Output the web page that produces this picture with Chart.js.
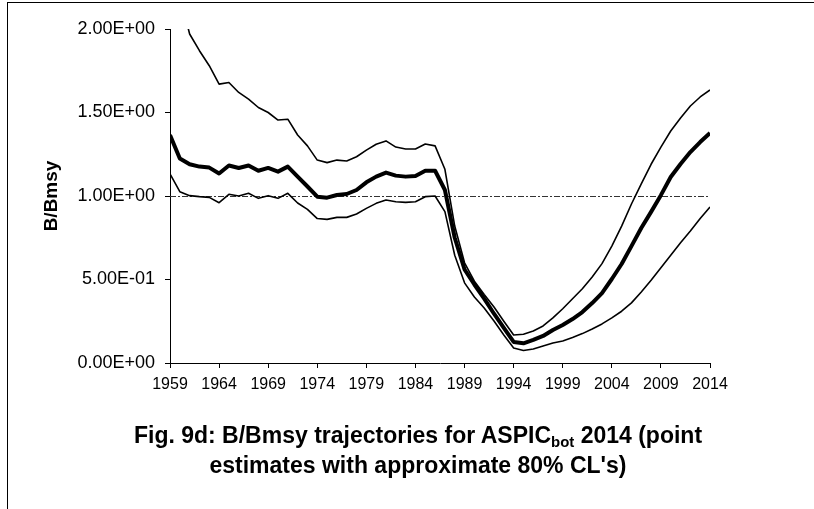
<!DOCTYPE html>
<html>
<head>
<meta charset="utf-8">
<title>B/Bmsy trajectories</title>
<script src="https://cdn.jsdelivr.net/npm/chart.js@4.4.1/dist/chart.umd.min.js"></script>
<style>
  body { margin: 0; background: #fff; overflow: hidden; }
  #wrap { position: relative; width: 814px; height: 509px; overflow: hidden; }
  #frame { position: absolute; left: 7px; top: 2px; width: 900px; height: 600px;
           border-top: 1px solid #000; border-left: 1px solid #000; }
  #caption { position: absolute; left: 68px; top: 420px; width: 700px; text-align: center;
             font: bold 23px "Liberation Sans", Arial, sans-serif; line-height: 30px; color: #000; }
  #caption sub { font-size: 0.65em; vertical-align: -0.3em; line-height: 0; }
</style>
</head>
<body>
<div id="wrap">
  <div id="frame"></div>
  <canvas id="chart" width="814" height="509"></canvas>
  <div id="caption">Fig. 9d: B/Bmsy trajectories for ASPIC<sub>bot</sub> 2014 (point<br>estimates with approximate 80% CL's)</div>
</div>
<script>
// years on the x axis
const years = ['1959','1960','1961','1962','1963','1964','1965','1966','1967','1968',
               '1969','1970','1971','1972','1973','1974','1975','1976','1977','1978',
               '1979','1980','1981','1982','1983','1984','1985','1986','1987','1988',
               '1989','1990','1991','1992','1993','1994','1995','1996','1997','1998',
               '1999','2000','2001','2002','2003','2004','2005','2006','2007','2008',
               '2009','2010','2011','2012','2013','2014'];

// upper 80% CL
const upperCL = [2.50, 2.20, 1.97, 1.87, 1.78, 1.67, 1.68, 1.62, 1.58, 1.53,
                 1.50, 1.455, 1.46, 1.365, 1.30, 1.215, 1.20, 1.215, 1.21, 1.235,
                 1.275, 1.31, 1.33, 1.293, 1.281, 1.281, 1.311, 1.30, 1.16, 0.82,
                 0.60, 0.49, 0.41, 0.335, 0.25, 0.168, 0.172, 0.192, 0.222, 0.27,
                 0.325, 0.385, 0.445, 0.515, 0.595, 0.70, 0.82, 0.952, 1.072, 1.19,
                 1.293, 1.389, 1.467, 1.539, 1.593, 1.635];

// point estimate
const pointEst = [1.365, 1.225, 1.19, 1.176, 1.17, 1.135, 1.183, 1.168, 1.183, 1.151,
                  1.168, 1.146, 1.176, 1.116, 1.057, 0.996, 0.99, 1.006, 1.012, 1.036,
                  1.082, 1.116, 1.14, 1.122, 1.116, 1.12, 1.151, 1.151, 1.036, 0.75,
                  0.56, 0.47, 0.385, 0.295, 0.21, 0.126, 0.118, 0.138, 0.162, 0.198,
                  0.228, 0.263, 0.305, 0.359, 0.419, 0.503, 0.593, 0.70, 0.808, 0.905,
                  1.005, 1.114, 1.192, 1.263, 1.323, 1.377];

// lower 80% CL
const lowerCL = [1.132, 1.026, 1.002, 0.996, 0.992, 0.96, 1.01, 1.0, 1.016, 0.986,
                 1.002, 0.986, 1.016, 0.958, 0.92, 0.865, 0.86, 0.872, 0.872, 0.892,
                 0.926, 0.956, 0.976, 0.966, 0.962, 0.966, 0.996, 1.0, 0.906, 0.645,
                 0.48, 0.395, 0.329, 0.251, 0.168, 0.09, 0.075, 0.084, 0.102, 0.12,
                 0.132, 0.153, 0.176, 0.204, 0.234, 0.27, 0.31, 0.36, 0.425, 0.495,
                 0.57, 0.645, 0.72, 0.79, 0.865, 0.934];

const yTicks = [0, 0.5, 1.0, 1.5, 2.0];
const refLevel = 1.0;   // B = Bmsy

const FONT = '"Liberation Sans", Arial, sans-serif';

// 2.00E+00 style labels like Excel
function sci(v) {
  const parts = v.toExponential(2).split('e');
  const n = parseInt(parts[1], 10);
  return parts[0] + 'E' + (n < 0 ? '-' : '+') + String(Math.abs(n)).padStart(2, '0');
}

// dash-dot line at B/Bmsy = 1
const refLine = {
  id: 'refLine',
  beforeDatasetsDraw(chart) {
    const { ctx, chartArea } = chart;
    const y = Math.round(chart.scales.y.getPixelForValue(refLevel)) + 0.5;
    ctx.save();
    ctx.strokeStyle = '#333';
    ctx.lineWidth = 1;
    ctx.setLineDash([6, 2, 2, 2]);
    ctx.beginPath();
    ctx.moveTo(chartArea.left, y);
    ctx.lineTo(chartArea.right, y);
    ctx.stroke();
    ctx.restore();
  }
};

const lineStyle = (w) => ({
  borderColor: '#000',
  borderWidth: w,
  pointRadius: 0,
  tension: 0,
  fill: false,
  clip: 0,
  borderJoinStyle: 'round'
});

new Chart(document.getElementById('chart'), {
  type: 'line',
  data: {
    labels: years,
    datasets: [
      Object.assign({ label: 'Upper CL', data: upperCL }, lineStyle(1.6)),
      Object.assign({ label: 'Point estimate', data: pointEst }, lineStyle(4)),
      Object.assign({ label: 'Lower CL', data: lowerCL }, lineStyle(1.6))
    ]
  },
  options: {
    responsive: false,
    animation: false,
    devicePixelRatio: 1,
    layout: { padding: { top: 29, right: 104, bottom: 0, left: 0 } },
    plugins: {
      legend: { display: false },
      tooltip: { enabled: false }
    },
    scales: {
      x: {
        offset: false,
        grid: {
          drawOnChartArea: false,
          tickLength: 5,
          color: ctx => (ctx.index % 5 === 0 ? '#000' : 'rgba(0,0,0,0)'),
          tickColor: ctx => (ctx.index % 5 === 0 ? '#000' : 'rgba(0,0,0,0)')
        },
        border: { color: '#000', width: 1 },
        ticks: {
          autoSkip: false,
          maxRotation: 0,
          padding: 7,
          color: '#000',
          font: { family: FONT, size: 16 },
          callback: (v, i) => (i % 5 === 0 ? years[i] : '')
        },
        afterFit: s => { s.height = 146; }
      },
      y: {
        min: 0,
        max: 2,
        afterBuildTicks: s => { s.ticks = yTicks.map(v => ({ value: v })); },
        grid: { drawOnChartArea: false, tickLength: 5, color: '#000' },
        border: { color: '#000', width: 1 },
        ticks: {
          padding: 10,
          color: '#000',
          font: { family: FONT, size: 18 },
          callback: v => sci(v)
        },
        title: {
          display: true,
          text: 'B/Bmsy',
          color: '#000',
          font: { family: FONT, size: 19, weight: 'bold' },
          padding: { top: 40, bottom: 0 }
        },
        afterFit: s => { s.width = 170; }
      }
    }
  },
  plugins: [refLine]
});
</script>
</body>
</html>
